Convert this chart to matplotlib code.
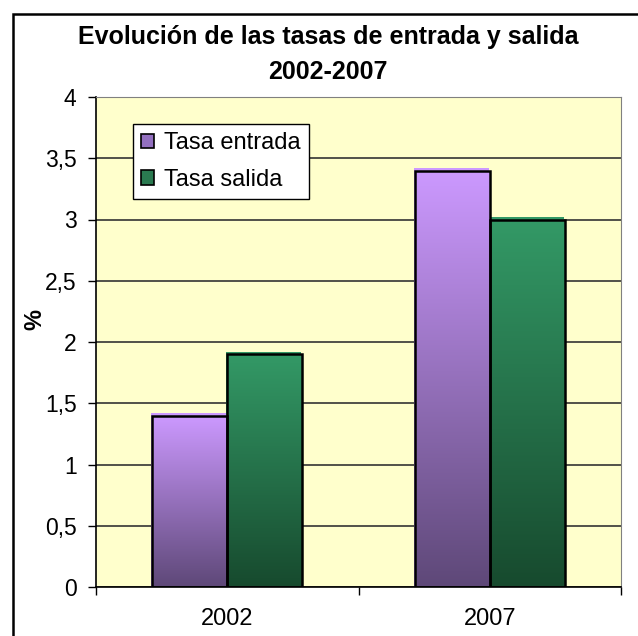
import matplotlib
matplotlib.use("Agg")
import matplotlib.pyplot as plt
import numpy as np
from matplotlib.colors import LinearSegmentedColormap
from matplotlib.patches import Rectangle, Patch

categories = ["2002", "2007"]
series_names = ["Tasa entrada", "Tasa salida"]
tasa_entrada = [1.4, 3.4]
tasa_salida = [1.9, 3.0]
yticks = [0, 0.5, 1, 1.5, 2, 2.5, 3, 3.5, 4]

PURPLE = ("#CC99FF", "#5E4878")
GREEN = ("#339966", "#174A2E")
BG = "#FFFFCC"

plt.rcParams["font.family"] = ["Liberation Sans", "DejaVu Sans"]

fig = plt.figure(figsize=(6.38, 6.36), dpi=100)
ax = fig.add_axes([96 / 638, 1 - 587 / 636, 525 / 638, 490 / 636])
ax.set_facecolor(BG)

# outer chart frame
fig.patches.append(Rectangle((13 / 638, -0.1), 1.2, 1 - 14 / 636 + 0.1,
                             transform=fig.transFigure, fill=False,
                             edgecolor="black", lw=1.8, zorder=0))

x = np.arange(len(categories))
w = 0.285

grad = np.linspace(0, 1, 256).reshape(-1, 1)


def gradient_bars(xs, vals, colors):
    cmap = LinearSegmentedColormap.from_list("g", [colors[1], colors[0]])
    bars = ax.bar(xs, vals, w, facecolor="none", edgecolor="black", lw=1.8, zorder=3)
    for b in bars:
        x0, y0 = b.get_x(), b.get_y()
        x1, y1 = x0 + b.get_width(), y0 + b.get_height()
        # light top edge like Excel's offset shadow
        ax.add_patch(Rectangle((x0 - 0.004, y0), b.get_width(), b.get_height() + 0.02,
                               facecolor=colors[0], edgecolor="none", zorder=2))
        im = ax.imshow(grad, extent=(x0, x1, y0, y1), origin="lower", cmap=cmap,
                       aspect="auto", zorder=2.5, interpolation="bilinear")
        im.set_clip_path(b)
    return bars


gradient_bars(x - w / 2, tasa_entrada, PURPLE)
gradient_bars(x + w / 2, tasa_salida, GREEN)
ax.set_xlim(-0.5, 1.5)
ax.set_ylim(0, 4)

ax.set_yticks(yticks)
ax.set_yticklabels([("%g" % v).replace(".", ",") for v in yticks], fontsize=16.5)
ax.yaxis.grid(True, color="#333333", lw=1.2, zorder=1)
ax.set_axisbelow(True)
ax.tick_params(axis="y", direction="out", length=6, width=1, pad=8)

ax.set_xticks([-0.5, 0.5, 1.5])
ax.set_xticklabels([])
ax.set_xticks(x, minor=True)
ax.set_xticklabels(categories, minor=True, fontsize=17)
ax.tick_params(axis="x", which="major", direction="out", length=6, width=1)
ax.tick_params(axis="x", which="minor", length=0, pad=15)

for s in ("top", "right"):
    ax.spines[s].set_color("#808080")
for s in ("left", "bottom"):
    ax.spines[s].set_color("black")
    ax.spines[s].set_linewidth(1.2)

ax.set_ylabel("%", fontsize=17, fontweight="bold", va="center")
ax.yaxis.set_label_coords((35 - 96) / 525, (587 - 319) / 490)

fig.text(328 / 638, 1 - 37 / 636, "Evolución de las tasas de entrada y salida",
         ha="center", va="center", fontsize=18, fontweight="bold")
fig.text(328 / 638, 1 - 72 / 636, "2002-2007",
         ha="center", va="center", fontsize=18, fontweight="bold")

handles = [Patch(facecolor="#9370C0", edgecolor="black", lw=1.2),
           Patch(facecolor="#2A7A50", edgecolor="black", lw=1.2)]
leg = ax.legend(handles, series_names, loc="upper left",
                bbox_to_anchor=((133 - 96) / 525, 1 - (124 - 97) / 490),
                fontsize=17, frameon=True, fancybox=False, framealpha=1,
                edgecolor="black", handlelength=0.55, handleheight=0.55,
                handletextpad=0.4, borderpad=0.35, labelspacing=0.62,
                borderaxespad=0)
leg.get_frame().set_linewidth(1.0)

fig.savefig("out.png", dpi=100)
